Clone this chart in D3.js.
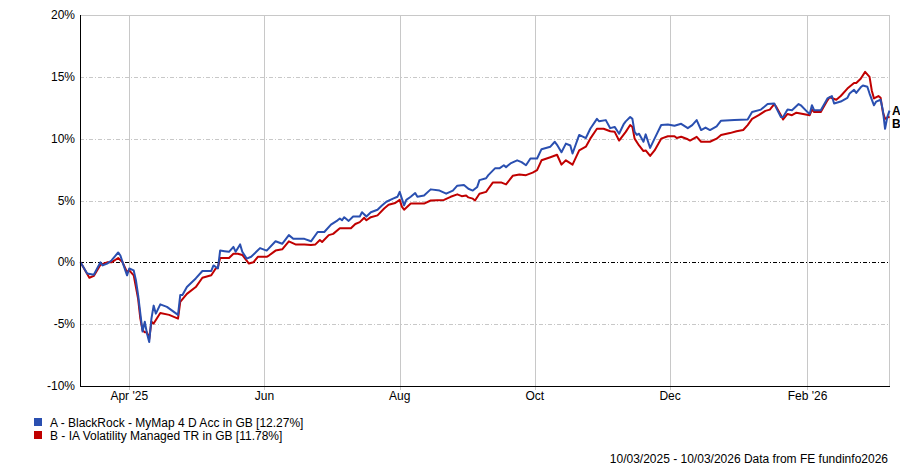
<!doctype html>
<html lang="en">
<head>
<meta charset="UTF-8">
<title>Performance chart</title>
<style>
  body { margin: 0; background: #fff; }
  svg text { font-family: "Liberation Sans", Arial, sans-serif; font-size: 12px; fill: #000; }
</style>
</head>
<body>
<svg width="900" height="467"></svg>
<script src="https://cdn.jsdelivr.net/npm/d3@7"></script>
<script>
// series A - BlackRock MyMap 4 D Acc
var datesA = [
  "2025-03-10","2025-03-13","2025-03-16","2025-03-19","2025-03-20","2025-03-22","2025-03-24","2025-03-27","2025-03-28","2025-03-29","2025-03-31",
  "2025-04-01","2025-04-03","2025-04-04","2025-04-05","2025-04-06","2025-04-07","2025-04-08","2025-04-09","2025-04-10","2025-04-11","2025-04-12","2025-04-13","2025-04-15","2025-04-18","2025-04-23","2025-04-24","2025-04-25","2025-04-27",
  "2025-05-01","2025-05-04","2025-05-08","2025-05-09","2025-05-11","2025-05-12","2025-05-14","2025-05-16","2025-05-18","2025-05-19","2025-05-21","2025-05-22","2025-05-24","2025-05-26","2025-05-30",
  "2025-06-02","2025-06-06","2025-06-09","2025-06-12","2025-06-14","2025-06-19","2025-06-22","2025-06-25","2025-06-28",
  "2025-07-01","2025-07-04","2025-07-05","2025-07-06","2025-07-07","2025-07-09","2025-07-11","2025-07-14","2025-07-15","2025-07-17","2025-07-19","2025-07-22","2025-07-24","2025-07-26","2025-07-29","2025-07-31",
  "2025-08-01","2025-08-02","2025-08-03","2025-08-04","2025-08-06","2025-08-08","2025-08-09","2025-08-12","2025-08-15","2025-08-19","2025-08-22","2025-08-25","2025-08-27","2025-08-30",
  "2025-09-01","2025-09-03","2025-09-05","2025-09-06","2025-09-09","2025-09-10","2025-09-13","2025-09-15","2025-09-17","2025-09-18","2025-09-20","2025-09-23","2025-09-25","2025-09-27","2025-09-29",
  "2025-10-02","2025-10-04","2025-10-08","2025-10-10","2025-10-11","2025-10-13","2025-10-15","2025-10-17","2025-10-18","2025-10-21","2025-10-24","2025-10-26","2025-10-29","2025-10-30",
  "2025-11-02","2025-11-04","2025-11-06","2025-11-08","2025-11-10","2025-11-11","2025-11-13","2025-11-14","2025-11-15","2025-11-16","2025-11-17","2025-11-19","2025-11-20","2025-11-22","2025-11-24","2025-11-27","2025-11-30",
  "2025-12-03","2025-12-06","2025-12-09","2025-12-11","2025-12-13","2025-12-15","2025-12-17","2025-12-19","2025-12-22","2025-12-24","2025-12-30",
  "2026-01-05","2026-01-07","2026-01-11","2026-01-14","2026-01-17","2026-01-18","2026-01-20","2026-01-21","2026-01-23","2026-01-25","2026-01-28","2026-01-29",
  "2026-02-01","2026-02-02","2026-02-03","2026-02-04","2026-02-07","2026-02-10","2026-02-12","2026-02-13","2026-02-16","2026-02-19","2026-02-20","2026-02-22","2026-02-23","2026-02-25","2026-02-26","2026-02-28",
  "2026-03-01","2026-03-03","2026-03-04","2026-03-06","2026-03-07","2026-03-08","2026-03-09","2026-03-10"
];
var valuesA = [
  0, -0.9, -1.0, 0.0, -0.25, -0.1, 0.15, 0.8, 0.55, 0.0, -1.05,
  -0.5, -0.65, -1.45, -2.65, -4.15, -5.6, -4.8, -5.75, -6.45, -4.55, -3.5, -4.15, -3.4, -3.6, -4.25, -2.65, -2.65, -2.0,
  -1.3, -0.7, -0.7, -0.25, -0.5, 0.95, 0.9, 0.85, 1.25, 0.85, 1.45, 0.85, 0.3, 0.45, 1.15,
  0.95, 1.7, 1.5, 2.2, 1.9, 1.9, 1.7, 2.45, 2.45,
  3.05, 3.4, 3.55, 3.4, 3.65, 3.35, 3.7, 3.7, 4.05, 3.7, 4.05, 4.25, 4.6, 4.9, 5.15, 5.3,
  5.7, 5.15, 4.6, 5.05, 5.3, 5.6, 5.3, 5.4, 5.9, 5.8, 5.55, 5.8, 6.2, 6.25,
  5.95, 5.8, 6.1, 6.65, 6.8, 7.05, 7.6, 7.6, 7.85, 7.7, 8.0, 8.25, 8.1, 7.85, 8.4,
  8.4, 9.15, 9.35, 9.75, 9.5, 8.9, 9.6, 9.45, 8.8, 10.3, 10.05, 10.8, 11.6, 11.4,
  11.5, 10.85, 10.95, 10.4, 11.15, 11.4, 11.75, 11.6, 10.55, 10.3, 10.4, 9.75, 10.35, 9.25, 10.0, 11.1, 11.15,
  11.05, 11.2, 10.85, 11.1, 11.5, 10.7, 10.9, 10.7, 11.0, 11.45, 11.5,
  11.55, 12.15, 12.35, 12.8, 12.85, 12.45, 11.75, 11.75, 12.35, 12.3, 12.8, 12.7,
  12.15, 12.0, 12.7, 12.3, 12.3, 13.25, 13.45, 12.85, 13.0, 13.3, 13.65, 13.95, 13.7, 14.15, 14.3, 14.2,
  13.65, 12.7, 13.0, 13.15, 12.3, 10.8, 11.75, 12.27
];

// series B - IA Volatility Managed TR
var datesB = [
  "2025-03-10","2025-03-14","2025-03-16","2025-03-19","2025-03-22","2025-03-24","2025-03-27","2025-03-29","2025-03-31",
  "2025-04-01","2025-04-03","2025-04-05","2025-04-06","2025-04-07","2025-04-08","2025-04-09","2025-04-10","2025-04-11","2025-04-12","2025-04-15","2025-04-19","2025-04-23","2025-04-24","2025-04-27",
  "2025-05-01","2025-05-04","2025-05-08","2025-05-10","2025-05-11","2025-05-12","2025-05-16","2025-05-18","2025-05-20","2025-05-22","2025-05-25","2025-05-27","2025-05-29",
  "2025-06-02","2025-06-03","2025-06-06","2025-06-09","2025-06-12","2025-06-15","2025-06-19","2025-06-22","2025-06-24","2025-06-26","2025-06-27","2025-06-30",
  "2025-07-02","2025-07-05","2025-07-10","2025-07-12","2025-07-14","2025-07-16","2025-07-17","2025-07-19","2025-07-22","2025-07-25","2025-07-27","2025-07-30",
  "2025-08-01","2025-08-02","2025-08-03","2025-08-06","2025-08-09","2025-08-12","2025-08-15","2025-08-21","2025-08-24","2025-08-27","2025-08-29","2025-08-31",
  "2025-09-01","2025-09-03","2025-09-04","2025-09-06","2025-09-09","2025-09-10","2025-09-12","2025-09-16","2025-09-18","2025-09-21","2025-09-24","2025-09-27","2025-09-30",
  "2025-10-02","2025-10-04","2025-10-08","2025-10-11","2025-10-13","2025-10-15","2025-10-18","2025-10-21","2025-10-24","2025-10-26","2025-10-29",
  "2025-11-01","2025-11-04","2025-11-06","2025-11-08","2025-11-11","2025-11-13","2025-11-14","2025-11-15","2025-11-17","2025-11-19","2025-11-20","2025-11-22","2025-11-24","2025-11-27","2025-11-30",
  "2025-12-03","2025-12-04","2025-12-06","2025-12-09","2025-12-10","2025-12-13","2025-12-15","2025-12-19","2025-12-22","2025-12-24","2025-12-28","2025-12-31",
  "2026-01-03","2026-01-05","2026-01-07","2026-01-10","2026-01-13","2026-01-15","2026-01-17","2026-01-18","2026-01-20","2026-01-21","2026-01-23","2026-01-25","2026-01-27","2026-01-30",
  "2026-02-02","2026-02-03","2026-02-04","2026-02-07","2026-02-10","2026-02-11","2026-02-14","2026-02-16","2026-02-19","2026-02-22","2026-02-23","2026-02-25","2026-02-27",
  "2026-03-01","2026-03-02","2026-03-03","2026-03-05","2026-03-06","2026-03-07","2026-03-08","2026-03-10"
];
var valuesB = [
  0, -1.25, -1.1, -0.2, 0, 0, 0.35, 0, -0.8,
  -0.65, -1.05, -2.95, -4.55, -5.5, -5.65, -5.65, -6.2, -4.8, -4.95, -4.1, -4.25, -4.55, -3.2, -2.55,
  -2.0, -1.25, -1.05, -0.5, -0.4, 0.35, 0.35, 0.7, 0.7, 0.6, -0.1, 0.0, 0.45,
  0.45, 0.55, 0.95, 1.05, 1.7, 1.45, 1.45, 1.4, 1.45, 1.8, 1.65, 2.2,
  2.3, 2.75, 2.75, 3.1, 3.25, 3.6, 3.4, 3.65, 3.8, 4.35, 4.65, 4.8,
  5.05, 4.5, 4.25, 4.75, 4.75, 4.75, 5.0, 5.05, 5.3, 5.5, 5.35, 5.4,
  5.25, 5.15, 5.0, 5.55, 5.7, 5.95, 6.45, 6.45, 6.3, 7.0, 7.1, 7.05, 7.25,
  7.45, 8.25, 8.5, 8.7, 7.9, 8.25, 7.9, 9.05, 9.35, 10.0, 10.8,
  10.8, 10.6, 10.55, 9.85, 10.55, 11.1, 10.95, 10.0, 9.45, 9.0, 9.05, 8.6, 9.05, 10.0, 10.2,
  10.2, 10.05, 10.15, 9.95, 9.85, 10.15, 9.75, 9.75, 10.0, 10.3, 10.45, 10.6,
  10.7, 11.1, 11.6, 11.9, 12.25, 12.35, 12.8, 12.55, 11.9, 11.55, 12.0, 11.9, 12.1, 12.0,
  11.9, 12.35, 12.15, 12.15, 13.1, 13.35, 13.15, 13.45, 14.05, 14.5, 14.5, 14.85, 15.4,
  15.0, 13.9, 13.25, 13.45, 13.3, 12.15, 11.6, 11.78
];

var yTicks = [-10, -5, 0, 5, 10, 15, 20];
var xTickDates = ["2025-04-01", "2025-06-01", "2025-08-01", "2025-10-01", "2025-12-01", "2026-02-01"];
var xTickLabels = ["Apr '25", "Jun", "Aug", "Oct", "Dec", "Feb '26"];
var seriesNames = ["A - BlackRock - MyMap 4 D Acc in GB [12.27%]", "B - IA Volatility Managed TR in GB [11.78%]"];
var seriesTags = ["A", "B"];
var colours = ["#2a4fb0", "#c00000"];

var parse = d3.timeParse("%Y-%m-%d");
var svg = d3.select("svg");

var plotL = 80, plotR = 889, plotT = 15, plotB = 386;

var x = d3.scaleTime()
  .domain([parse("2025-03-10"), parse("2026-03-10")])
  .range([plotL + 0.5, plotR + 0.5]);
var y = d3.scaleLinear()
  .domain([-10, 20])
  .range([plotB, plotT]);

// grid
var grid = svg.append("g").attr("shape-rendering", "crispEdges");
grid.selectAll(".hgrid")
  .data(yTicks.filter(function(d) { return d !== 0 && d !== 20 && d !== -10; }))
  .enter().append("line")
  .attr("x1", plotL).attr("x2", plotR)
  .attr("y1", function(d) { return Math.round(y(d)) + 0.5; })
  .attr("y2", function(d) { return Math.round(y(d)) + 0.5; })
  .attr("stroke", "#c8c8c8")
  .attr("stroke-dasharray", "4,2,1,2");
grid.selectAll(".vgrid")
  .data(xTickDates)
  .enter().append("line")
  .attr("x1", function(d) { return Math.round(x(parse(d))) + 0.5; })
  .attr("x2", function(d) { return Math.round(x(parse(d))) + 0.5; })
  .attr("y1", plotT).attr("y2", plotB + 4)
  .attr("stroke", "#c8c8c8");
// frame top / right
grid.append("line")
  .attr("x1", plotL).attr("x2", plotR + 0.5)
  .attr("y1", plotT + 0.5).attr("y2", plotT + 0.5)
  .attr("stroke", "#c8c8c8");
grid.append("line")
  .attr("x1", plotR + 0.5).attr("x2", plotR + 0.5)
  .attr("y1", plotT).attr("y2", plotB)
  .attr("stroke", "#c8c8c8");
// zero line
grid.append("line")
  .attr("x1", plotL).attr("x2", plotR)
  .attr("y1", Math.round(y(0)) + 0.5).attr("y2", Math.round(y(0)) + 0.5)
  .attr("stroke", "#000")
  .attr("stroke-dasharray", "4,2,1,2");

// tick labels
svg.append("g").selectAll("text")
  .data(yTicks)
  .enter().append("text")
  .attr("x", plotL - 5)
  .attr("y", function(d) { return y(d) + 4; })
  .attr("text-anchor", "end")
  .text(function(d) { return d + "%"; });
svg.append("g").selectAll("text")
  .data(xTickDates)
  .enter().append("text")
  .attr("x", function(d) { return x(parse(d)); })
  .attr("y", plotB + 14)
  .attr("text-anchor", "middle")
  .text(function(d, i) { return xTickLabels[i]; });

// lines
var line = d3.line()
  .x(function(d) { return x(d.date); })
  .y(function(d) { return y(d.value); });
function rows(dates, values) {
  return dates.map(function(d, i) { return { date: parse(d), value: values[i] }; });
}
var dataA = rows(datesA, valuesA);
var dataB = rows(datesB, valuesB);

svg.append("path")
  .attr("d", line(dataB))
  .attr("fill", "none")
  .attr("stroke", colours[1])
  .attr("stroke-width", 2)
  .attr("stroke-linejoin", "round");
svg.append("path")
  .attr("d", line(dataA))
  .attr("fill", "none")
  .attr("stroke", colours[0])
  .attr("stroke-width", 2)
  .attr("stroke-linejoin", "round");

// axes
svg.append("line")
  .attr("x1", plotL + 0.5).attr("x2", plotL + 0.5)
  .attr("y1", plotT).attr("y2", plotB + 0.5)
  .attr("stroke", "#000").attr("shape-rendering", "crispEdges");
svg.append("line")
  .attr("x1", plotL).attr("x2", plotR + 1)
  .attr("y1", plotB + 0.5).attr("y2", plotB + 0.5)
  .attr("stroke", "#000").attr("shape-rendering", "crispEdges");

// end tags
svg.append("text")
  .attr("x", plotR + 3).attr("y", 115)
  .style("font-weight", "bold")
  .text(seriesTags[0]);
svg.append("text")
  .attr("x", plotR + 3).attr("y", 128)
  .style("font-weight", "bold")
  .text(seriesTags[1]);

// legend
var legend = svg.append("g").selectAll("g")
  .data(seriesNames)
  .enter().append("g")
  .attr("transform", function(d, i) { return "translate(34," + (418 + i * 13) + ")"; });
legend.append("rect")
  .attr("width", 8).attr("height", 8)
  .attr("fill", function(d, i) { return colours[i]; });
legend.append("text")
  .attr("x", 16).attr("y", 9)
  .text(function(d) { return d; });

// footer
svg.append("text")
  .attr("x", 888).attr("y", 463)
  .attr("text-anchor", "end")
  .text("10/03/2025 - 10/03/2026 Data from FE fundinfo2026");
</script>
</body>
</html>
